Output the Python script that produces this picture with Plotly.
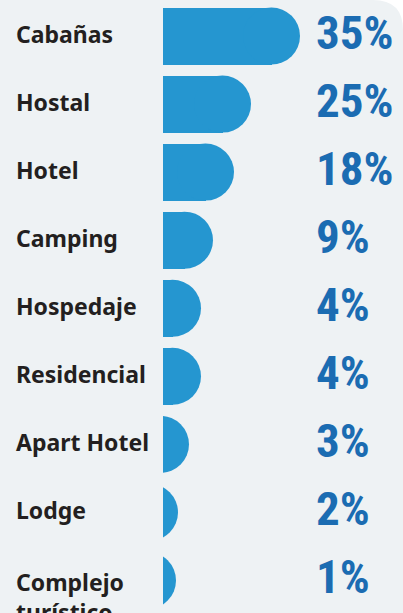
import plotly.graph_objects as go

categories = ["Cabañas", "Hostal", "Hotel", "Camping", "Hospedaje",
              "Residencial", "Apart Hotel", "Lodge", "Complejo<br>turístico"]
shares = [35, 25, 18, 9, 4, 4, 3, 2, 1]
# drawn bar lengths as they appear in the infographic (not proportional)
bar_lengths = [137, 88, 71, 50, 38, 38, 26, 15, 13]
pct_labels = [f"{v}%" for v in shares]

BG = "#eef2f4"
BAR = "#2596d0"
PCT = "#1b6cb2"
TXT = "#231f20"

W, H = 403, 613
CAP_D = 57          # bar thickness / cap diameter in px
cap_r = CAP_D / 2

fig = go.Figure()
# straight part of each bar
fig.add_trace(go.Bar(
    x=[max(v - cap_r, 0) for v in bar_lengths], y=categories, orientation="h",
    width=0.8375,
    marker=dict(color=BAR, line=dict(width=0)),
    hoverinfo="skip",
))
# round caps (clipped at the bar base by the plot area)
fig.add_trace(go.Scatter(
    x=[v - cap_r for v in bar_lengths], y=categories, mode="markers",
    marker=dict(symbol="circle", size=CAP_D, color=BAR, line=dict(width=0)),
    cliponaxis=True, hoverinfo="skip",
))

annotations = []
for cat, p in zip(categories, pct_labels):
    annotations.append(dict(
        x=151, y=cat, xref="x", yref="y", text=p, showarrow=False,
        xanchor="left", yanchor="middle", yshift=4,
        font=dict(family="Liberation Sans Narrow, Roboto Condensed, DejaVu Sans Condensed, sans-serif",
                  size=47, color=PCT, weight="bold"),
    ))
    two_line = "<br>" in cat
    annotations.append(dict(
        x=14 / W, y=cat, xref="paper", yref="y", text=cat, showarrow=False,
        xanchor="left", yanchor="middle", yshift=(-17 if two_line else 2),
        align="left",
        font=dict(family="Noto Sans, DejaVu Sans, sans-serif", size=23,
                  color=TXT, weight="bold"),
    ))

r = 30
fig.update_layout(
    width=W, height=H,
    margin=dict(l=0, r=0, t=0, b=0),
    paper_bgcolor="white",
    plot_bgcolor="rgba(0,0,0,0)",
    showlegend=False,
    bargap=0,
    xaxis=dict(domain=[163 / W, 1], range=[0, 240], visible=False, fixedrange=True),
    yaxis=dict(type="category", categoryorder="array", categoryarray=categories,
               range=[8.478, -0.529], visible=False, fixedrange=True),
    annotations=annotations,
    shapes=[dict(
        type="path", xref="paper", yref="paper", layer="below",
        path=f"M 0,0 L 0,1 L {1 - r / W},1 Q 1,1 1,{1 - r / H} L 1,0 Z",
        fillcolor=BG, line=dict(width=0),
    )],
)

fig.write_html("out.html", config={"displayModeBar": False},
               post_script="document.body.style.margin='0';document.body.style.overflow='hidden';")
